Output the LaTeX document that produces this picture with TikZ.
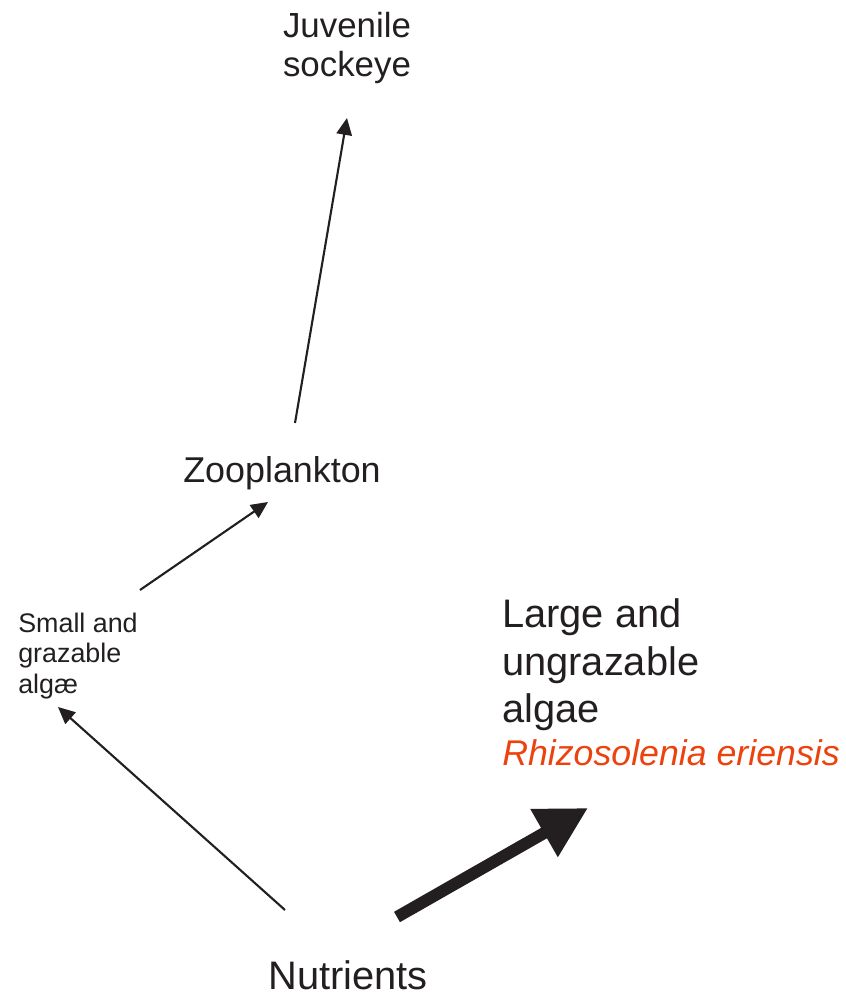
\documentclass[tikz,border=0pt]{standalone}
\usepackage{fontspec}
\setmainfont{Liberation Sans}
\usepackage{xcolor}
\usetikzlibrary{calc, positioning}
\usetikzlibrary{arrows.meta}

\definecolor{inkgray}{RGB}{35,31,32}
\definecolor{rhizored}{RGB}{236,66,14}

\tikzset{
  label text/.style={inner sep=0pt, text=inkgray},
  feed/.style={draw=inkgray, line width=1.5pt,
    -{Triangle[length=12pt, width=11pt]}},
  bigfeed/.style={draw=inkgray, line width=8.5pt,
    -{Triangle[length=36pt, width=37pt]}}
}

\begin{document}
\begin{tikzpicture}[x=0.025cm,y=0.025cm]
\useasboundingbox (0,0) rectangle (846,996);

% Trophic levels
\node[label text, align=center, font=\fontsize{24.8}{28.3}\selectfont]
    (juv) at (347,948) {Juvenile\\sockeye};
\node[label text, font=\fontsize{25.5}{29}\selectfont]
    (zoo) at (282,523) {Zooplankton};
\node[label text, anchor=west, align=left, font=\fontsize{19.1}{21.6}\selectfont]
    (small) at (18,340) {Small and\\grazable\\alg\ae};
\node[label text, anchor=west, align=left, font=\fontsize{28.3}{33.7}\selectfont]
    (large) at (502,331) {Large and\\ungrazable\\algae};
\node[label text, anchor=west, text=rhizored, font=\fontsize{25.4}{29}\selectfont\itshape]
    (rhizo) at (502,243) {Rhizosolenia eriensis};
\node[label text, font=\fontsize{28.3}{32}\selectfont]
    (nutr) at (348,21) {Nutrients};

% Flows
\draw[feed] ($(nutr)+(-63,65)$) -- ($(small.west)+(40,-51)$);
\draw[feed] ($(small.west)+(122,66)$) -- ($(zoo)+(-14,-29)$);
\draw[feed] ($(zoo)+(13,50)$) -- ($(juv)+(0,-70)$);
\draw[bigfeed] ($(nutr)+(49,58)$) -- ($(rhizo.west)+(86,-55)$);
\end{tikzpicture}
\end{document}
